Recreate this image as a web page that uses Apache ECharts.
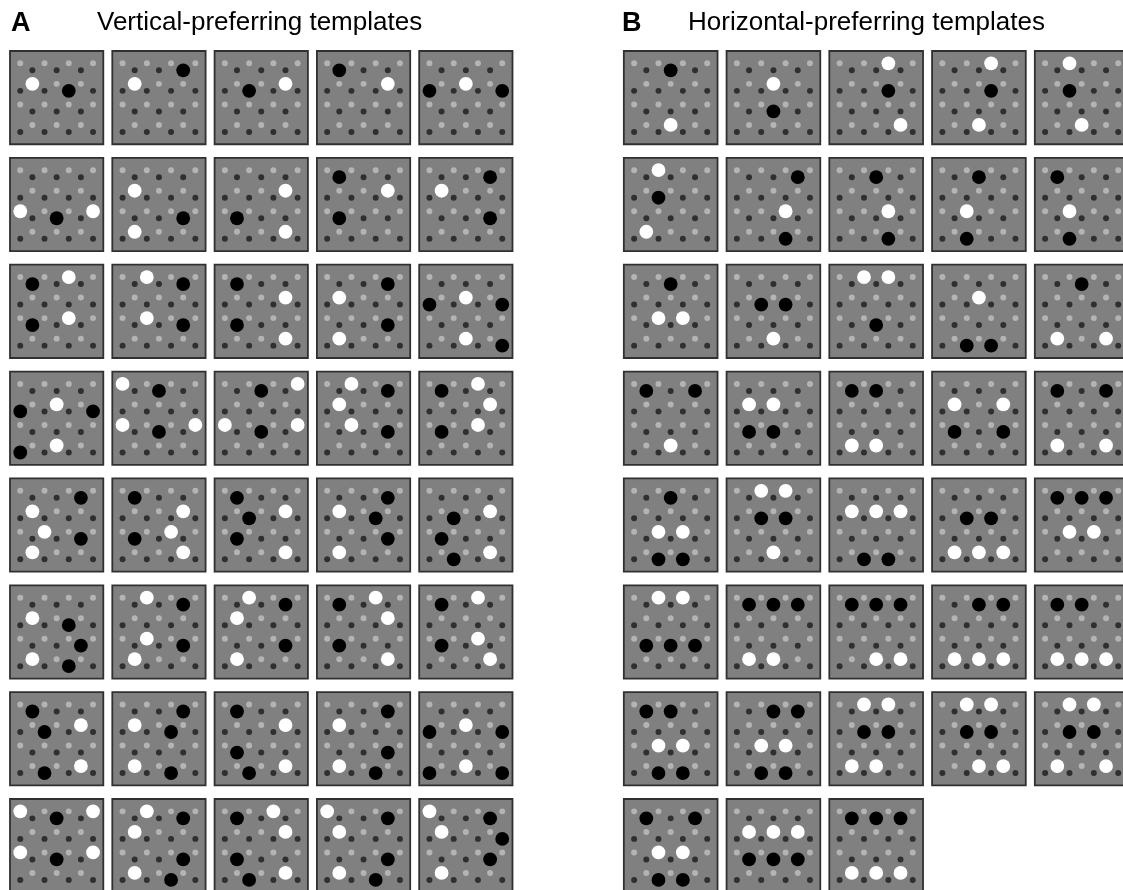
<!DOCTYPE html>
<html><head><meta charset="utf-8">
<script src="https://cdn.jsdelivr.net/npm/echarts@6/dist/echarts.min.js"></script>
<style>html,body{margin:0;padding:0;background:#fff}#c{width:1123px;height:890px}</style>
</head><body><div id="c"></div>
<script>
// ---------- DATA ----------
const panelLetters = ['A', 'B'];
const panelTitles = ['Vertical-preferring templates', 'Horizontal-preferring templates'];
// Each template: list of enlarged lattice positions [column c (0-6), row r (0-7)]
const whiteA = [
  [[1,2]], [[1,2]], [[5,2]], [[5,2]], [[3,2]],
  [[0,4],[6,4]], [[1,2],[1,6]], [[5,2],[5,6]], [[5,2]], [[1,2]],
  [[4,0],[4,4]], [[2,0],[2,4]], [[5,2],[5,6]], [[1,2],[1,6]], [[3,2],[3,6]],
  [[3,2],[3,6]], [[0,0],[0,4],[6,4]], [[6,0],[0,4],[6,4]], [[2,0],[1,2],[2,4]], [[4,0],[5,2],[4,4]],
  [[1,2],[2,4],[1,6]], [[5,2],[4,4],[5,6]], [[5,2],[5,6]], [[1,2],[1,6]], [[5,2],[5,6]],
  [[1,2],[1,6]], [[2,0],[2,4],[1,6]], [[2,0],[1,2],[1,6]], [[4,0],[5,2],[5,6]], [[4,0],[4,4],[5,6]],
  [[5,2],[5,6]], [[1,2],[1,6]], [[5,2],[5,6]], [[1,2],[1,6]], [[3,2],[3,6]],
  [[0,0],[6,0],[0,4],[6,4]], [[2,0],[1,2],[1,6]], [[4,0],[5,2],[5,6]], [[0,0],[1,2],[1,6]], [[0,0],[1,2],[1,6]]
];
const blackA = [
  [[4,3]], [[5,1]], [[2,3]], [[1,1]], [[0,3],[6,3]],
  [[3,5]], [[5,5]], [[1,5]], [[1,1],[1,5]], [[5,1],[5,5]],
  [[1,1],[1,5]], [[5,1],[5,5]], [[1,1],[1,5]], [[5,1],[5,5]], [[0,3],[6,3],[6,7]],
  [[0,3],[6,3],[0,7]], [[3,1],[3,5]], [[3,1],[3,5]], [[5,1],[5,5]], [[1,1],[1,5]],
  [[5,1],[5,5]], [[1,1],[1,5]], [[1,1],[2,3],[1,5]], [[5,1],[4,3],[5,5]], [[2,3],[1,5],[2,7]],
  [[4,3],[5,5],[4,7]], [[5,1],[5,5]], [[5,1],[5,5]], [[1,1],[1,5]], [[1,1],[1,5]],
  [[1,1],[2,3],[2,7]], [[5,1],[4,3],[4,7]], [[1,1],[1,5],[2,7]], [[5,1],[5,5],[4,7]], [[0,3],[6,3],[0,7],[6,7]],
  [[3,1],[3,5]], [[5,1],[5,5],[4,7]], [[1,1],[1,5],[2,7]], [[5,1],[5,5],[4,7]], [[5,1],[6,3],[5,5]]
];
const whiteB = [
  [[3,6]], [[3,2]], [[4,0],[5,6]], [[4,0],[3,6]], [[2,0],[3,6]],
  [[2,0],[1,6]], [[4,4]], [[4,4]], [[2,4]], [[2,4]],
  [[2,4],[4,4]], [[3,6]], [[2,0],[4,0]], [[3,2]], [[1,6],[5,6]],
  [[3,6]], [[1,2],[3,2]], [[1,6],[3,6]], [[1,2],[5,2]], [[1,6],[5,6]],
  [[2,4],[4,4]], [[2,0],[4,0],[3,6]], [[1,2],[3,2],[5,2]], [[1,6],[3,6],[5,6]], [[2,4],[4,4]],
  [[2,0],[4,0]], [[1,6],[3,6]], [[3,6],[5,6]], [[1,6],[3,6],[5,6]], [[1,6],[3,6],[5,6]],
  [[2,4],[4,4]], [[2,4],[4,4]], [[2,0],[4,0],[1,6],[3,6]], [[2,0],[4,0],[3,6],[5,6]], [[2,0],[4,0],[1,6],[5,6]],
  [[2,4],[4,4]], [[1,2],[3,2],[5,2]], [[1,6],[3,6],[5,6]]
];
const blackB = [
  [[3,1]], [[3,5]], [[4,3]], [[4,3]], [[2,3]],
  [[2,3]], [[5,1],[4,7]], [[3,1],[4,7]], [[3,1],[2,7]], [[1,1],[2,7]],
  [[3,1]], [[2,3],[4,3]], [[3,5]], [[2,7],[4,7]], [[3,1]],
  [[1,1],[5,1]], [[1,5],[3,5]], [[1,1],[3,1]], [[1,5],[5,5]], [[1,1],[5,1]],
  [[3,1],[2,7],[4,7]], [[2,3],[4,3]], [[2,7],[4,7]], [[2,3],[4,3]], [[1,1],[3,1],[5,1]],
  [[1,5],[3,5],[5,5]], [[1,1],[3,1],[5,1]], [[1,1],[3,1],[5,1]], [[3,1],[5,1]], [[1,1],[3,1]],
  [[1,1],[3,1],[2,7],[4,7]], [[3,1],[5,1],[2,7],[4,7]], [[2,3],[4,3]], [[2,3],[4,3]], [[2,3],[4,3]],
  [[1,1],[5,1],[2,7],[4,7]], [[1,5],[3,5],[5,5]], [[1,1],[3,1],[5,1]]
];
const COLS = 5;

// ---------- GEOMETRY / STYLE ----------
const TILE_FX = 0.912, TILE_FY = 0.873;      // tile size as fraction of grid step
const LX = c => 0.5 + (c - 3) * 0.13;          // lattice x (fraction of tile)
const LY = r => (r % 2 === 0 ? 0.1325 : 0.2075) + Math.floor(r / 2) * 0.22;
const SMALL_R = 0.032, BIG_R = 0.074;          // radius as fraction of tile
const isLight = (c, r) => r % 2 === 0 && (c + r / 2) % 2 === 0;
const isDark = (c, r) => r % 2 === 1 && (c + (r - 1) / 2) % 2 === 1;

function makeRender(whites, blacks) {
  return function (params, api) {
    const i = api.value(2);
    const ctr = api.coord([api.value(0), api.value(1)]);
    const step = api.size([1, 1]);
    const tw = step[0] * TILE_FX, th = step[1] * TILE_FY;
    const x0 = ctr[0] - tw / 2, y0 = ctr[1] - th / 2;
    const s = Math.min(tw, th);
    const big = {};
    whites[i].forEach(p => big[p[0] + ',' + p[1]] = 'w');
    blacks[i].forEach(p => big[p[0] + ',' + p[1]] = 'b');
    const ch = [{
      type: 'rect',
      shape: { x: x0, y: y0, width: tw, height: th },
      style: { fill: '#808080', stroke: '#303030', lineWidth: 1.8 }
    }];
    for (let r = 0; r < 8; r++) for (let c = 0; c < 7; c++) {
      const L = isLight(c, r), D = isDark(c, r);
      if (!L && !D) continue;
      if (big[c + ',' + r]) continue;
      ch.push({ type: 'circle', shape: { cx: x0 + LX(c) * tw, cy: y0 + LY(r) * th, r: SMALL_R * s },
        style: { fill: L ? '#b4b4b4' : '#2f2f2f' } });
    }
    Object.keys(big).forEach(k => {
      const [c, r] = k.split(',').map(Number);
      ch.push({ type: 'circle', shape: { cx: x0 + LX(c) * tw, cy: y0 + LY(r) * th, r: BIG_R * s },
        style: { fill: big[k] === 'w' ? '#ffffff' : '#000000' } });
    });
    return { type: 'group', children: ch };
  };
}
const toData = arr => arr.map((_, i) => [i % COLS, Math.floor(i / COLS), i]);

const chart = echarts.init(document.getElementById('c'), null, { renderer: 'canvas' });
const FONT = '"Liberation Sans", Arial, Helvetica, sans-serif';
// grid step: 102.3 px (A) / 102.75 px (B) horizontally, 106.86 px vertically
const Y_MAX = -0.5 + 845.8 / 106.86;
const XB_MAX = -0.5 + (1123 - 619.3) / 102.75;
chart.setOption({
  animation: false,
  backgroundColor: '#ffffff',
  title: [
    { text: panelLetters[0], left: 11, top: 10, padding: 0, textStyle: { fontSize: 27, fontWeight: 'bold', color: '#000', fontFamily: FONT } },
    { text: panelTitles[0], left: 97, top: 10, padding: 0, textStyle: { fontSize: 26, fontWeight: 'normal', color: '#000', fontFamily: FONT } },
    { text: panelLetters[1], left: 622, top: 10, padding: 0, textStyle: { fontSize: 27, fontWeight: 'bold', color: '#000', fontFamily: FONT } },
    { text: panelTitles[1], left: 688, top: 10, padding: 0, textStyle: { fontSize: 26, fontWeight: 'normal', color: '#000', fontFamily: FONT } }
  ],
  grid: [
    { left: 5.5, top: 44.2, width: 511.5, height: 845.8 },
    { left: 619.3, top: 44.2, width: 1123 - 619.3, height: 845.8 }
  ],
  xAxis: [
    { gridIndex: 0, type: 'value', min: -0.5, max: 4.5, show: false },
    { gridIndex: 1, type: 'value', min: -0.5, max: XB_MAX, show: false }
  ],
  yAxis: [
    { gridIndex: 0, type: 'value', min: -0.5, max: Y_MAX, inverse: true, show: false },
    { gridIndex: 1, type: 'value', min: -0.5, max: Y_MAX, inverse: true, show: false }
  ],
  series: [
    { type: 'custom', xAxisIndex: 0, yAxisIndex: 0, clip: false, renderItem: makeRender(whiteA, blackA), data: toData(whiteA) },
    { type: 'custom', xAxisIndex: 1, yAxisIndex: 1, clip: false, renderItem: makeRender(whiteB, blackB), data: toData(whiteB) }
  ]
});
</script></body></html>
